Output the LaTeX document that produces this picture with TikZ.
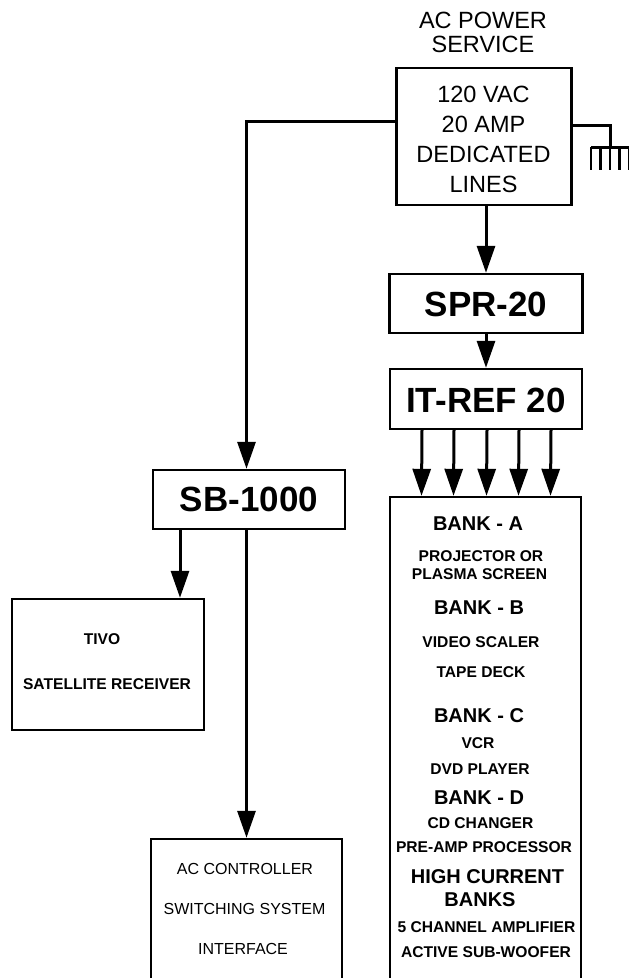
\documentclass[tikz,border=0pt]{standalone}
\usepackage{fontspec}
\setmainfont{Liberation Sans}
\usetikzlibrary{arrows.meta,positioning}
\tikzset{%
	every box/.style={
		draw,
		line width=2.4pt,
		inner sep=0pt,
		align=center
	},
	wire/.style={line width=3pt},
	feed/.style={wire, -{Triangle[width=18pt,length=27pt]}},
	model/.style={font=\fontsize{35}{40}\selectfont\bfseries},
	power text/.style={font=\fontsize{23.5}{30}\selectfont, align=center},
	bank title/.style={font=\fontsize{20}{22}\selectfont\bfseries},
	bank item/.style={font=\fontsize{15.6}{18}\selectfont\bfseries},
	plain item/.style={font=\fontsize{16}{18}\selectfont},
}

\begin{document}
\begin{tikzpicture}[x=1pt, y=-1pt]
		\useasboundingbox (0,0) rectangle (629,978);
		
		% boxes
		\node [every box, minimum width=175pt, minimum height=137pt] (power) at (484,136.5) {};
		\node [every box, minimum width=193pt, minimum height=59pt] (spr) at (486,303.5) {};
		\node [every box, minimum width=192pt, minimum height=60pt] (itref) at (486,399) {};
		\node [every box, minimum width=191pt, minimum height=503pt] (bank) at (485.5,748.5) {};
		\node [every box, minimum width=192pt, minimum height=59pt] (sb) at (249,499.5) {};
		\node [every box, minimum width=192pt, minimum height=131pt] (tivo) at (108,664.5) {};
		\node [every box, minimum width=191pt, minimum height=161pt] (acctrl) at (246.5,919.5) {};
		
		% texts
		\node [font=\fontsize{23.5}{24}\selectfont, align=center] (service) at (483,32) {AC POWER\\SERVICE};
		\node [power text] (power-text) at (483.5,139.75) {120 VAC\\20 AMP\\DEDICATED\\LINES};
		\node [model] (spr-text) at (486,304.5) {SPR-20};
		\node [model] (itref-text) at (486,400.5) {IT-REF 20};
		\node [model] (sb-text) at (249,499.5) {SB-1000};
		\node [bank item] (tivo-1) at (102,639) {TIVO};
		\node [bank item] (tivo-2) at (107,684) {SATELLITE RECEIVER};
		
		\foreach \l/\x/\y [count=\i] in {AC CONTROLLER/245/869, SWITCHING SYSTEM/244.5/909, INTERFACE/243/949}
		\node [plain item] (acctrl-\i) at (\x,\y) {\l};
		
		\foreach \l/\x/\y/\s [count=\i] in {BANK - A/478/523.5/bank title, PROJECTOR OR/481/556/bank item,
			PLASMA SCREEN/479.5/574/bank item, BANK - B/479/608/bank title, VIDEO SCALER/481/642/bank item,
			TAPE DECK/481/672/bank item, BANK - C/479/716/bank title, VCR/478/743/bank item,
			DVD PLAYER/480/769/bank item, BANK - D/479/798/bank title, CD CHANGER/480.5/823/bank item,
			PRE-AMP PROCESSOR/484/847/bank item, HIGH CURRENT/487.5/877/bank title, BANKS/480/899.5/bank title,
			5 CHANNEL AMPLIFIER/486.5/927/bank item, ACTIVE SUB-WOOFER/486/952/bank item}
		\node [\s] (bank-\i) at (\x,\y) {\l};
		
		% feeds
		\draw [feed] (spr.north |- power.south) -- (spr.north);
		\draw [feed] (spr.south) -- (itref.north);
		\foreach \dx in {-64,-32,1,33,65}
		\draw [feed] ([xshift=\dx]itref.south) -- ([xshift=\dx]bank.north);
		\draw [feed] ([yshift=15.5pt]power.west) -| ([xshift=-2.5pt]sb.north);
		\draw [feed] ([xshift=-69pt]sb.south) -- ([xshift=72pt]tivo.north);
		\draw [feed] (acctrl.north |- sb.south) -- (acctrl.north);
		
		% ground
		\coordinate (gnd) at (610,147);
		\draw [wire] ([yshift=11.5pt]power.east) -| (gnd);
		\draw [wire] (591,147) -- (640,147);
		\foreach \x in {591,600.5,610,619.5,629}
		\draw [line width=2.5pt] (\x,147) -- (\x,170);
		
\end{tikzpicture}
\end{document}
